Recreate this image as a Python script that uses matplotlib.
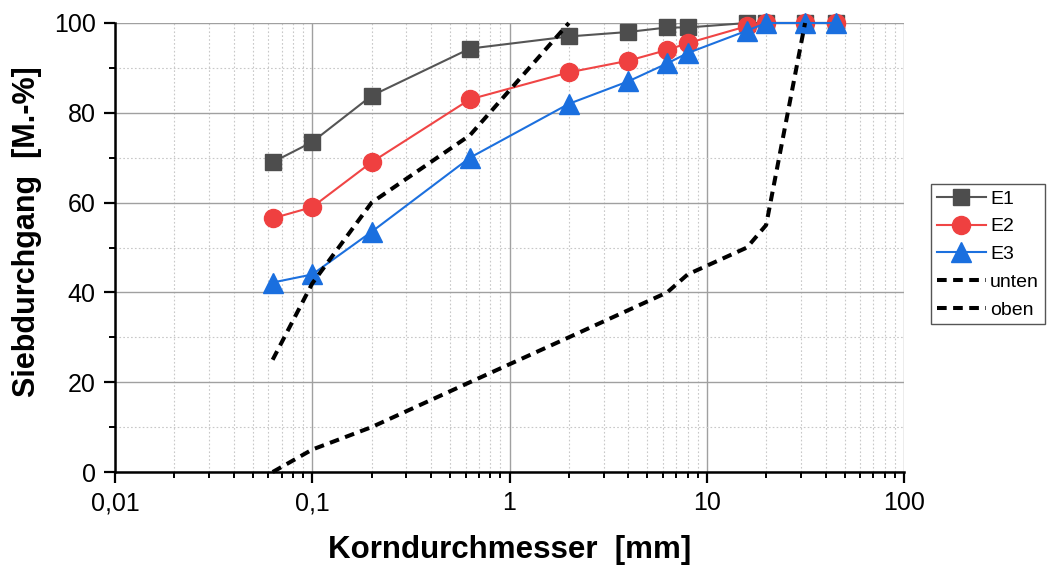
import matplotlib
matplotlib.use("Agg")
import matplotlib.pyplot as plt
from matplotlib.ticker import FixedLocator, FixedFormatter, LogLocator, MultipleLocator, NullFormatter

plt.rcParams['font.family'] = ['Liberation Sans', 'DejaVu Sans']

# sieve sizes [mm]
sieve = [0.063, 0.1, 0.2, 0.63, 2, 4, 6.3, 8, 16, 20, 31.5, 45]
e1 = [69, 73.5, 83.8, 94.3, 97, 98, 99, 99, 100, 100, 100, 100]
e2 = [56.5, 59, 69, 83, 89, 91.6, 94, 95.5, 99.3, 100, 100, 100]
e3 = [42.2, 44, 53.5, 70, 82, 87, 91, 93.3, 98.3, 100, 100, 100]

unten_x = [0.063, 0.1, 0.2, 0.63, 2, 6.3, 8, 16, 20, 31.5]
unten_y = [0, 5, 10, 20, 30, 40, 44, 50, 55, 100]
oben_x = [0.063, 0.1, 0.2, 0.63, 2]
oben_y = [25, 42, 60, 75, 100]

xticks = [0.01, 0.1, 1, 10, 100]
xlabels = ['0,01', '0,1', '1', '10', '100']

fig = plt.figure(figsize=(10.54, 5.72), dpi=100)
ax = fig.add_axes([0.1091, 0.1748, 0.7486, 0.785])

ax.plot(sieve, e1, color='#555555', lw=1.5, marker='s', ms=12,
        mfc='#4d4d4d', mec='#4d4d4d', label='E1', clip_on=False, zorder=3)
ax.plot(sieve, e2, color='#f04545', lw=1.5, marker='o', ms=13,
        mfc='#ef4040', mec='#ef4040', label='E2', clip_on=False, zorder=4)
ax.plot(sieve, e3, color='#1c70de', lw=1.5, marker='^', ms=15,
        mfc='#1a6fdf', mec='#1a6fdf', label='E3', clip_on=False, zorder=5)
ax.plot(unten_x, unten_y, color='black', lw=2.9, ls=(0, (2.4, 1.6)),
        label='unten', clip_on=False, zorder=6)
ax.plot(oben_x, oben_y, color='black', lw=2.9, ls=(0, (2.4, 1.6)),
        label='oben', clip_on=False, zorder=6)

ax.set_xscale('log')
ax.set_xlim(0.01, 100)
ax.set_ylim(0, 100)

ax.xaxis.set_major_locator(FixedLocator(xticks))
ax.xaxis.set_major_formatter(FixedFormatter(xlabels))
ax.xaxis.set_minor_locator(LogLocator(base=10, subs=range(2, 10), numticks=20))
ax.xaxis.set_minor_formatter(NullFormatter())
ax.yaxis.set_major_locator(MultipleLocator(20))
ax.yaxis.set_minor_locator(MultipleLocator(10))

ax.grid(True, which='major', color='#a0a0a0', lw=1.0, ls='-')
ax.grid(True, which='minor', color='#c8c8c8', lw=0.8, ls=(0, (1.5, 2)))
ax.set_axisbelow(True)

for s in ['top', 'right']:
    ax.spines[s].set_visible(False)
for s in ['left', 'bottom']:
    ax.spines[s].set_linewidth(1.8)

ax.tick_params(which='major', direction='out', length=8, width=1.6, labelsize=18, pad=6)
ax.tick_params(which='minor', direction='out', length=4, width=1.4)

ax.set_xlabel('Korndurchmesser  [mm]', fontsize=22.5, fontweight='bold', labelpad=14)
ax.set_ylabel('Siebdurchgang  [M.-%]', fontsize=22, fontweight='bold')
ax.yaxis.set_label_coords(-0.093, 0.535)

leg = ax.legend(loc='upper left', bbox_to_anchor=(0.883, 0.678),
                bbox_transform=fig.transFigure, borderaxespad=0,
                fontsize=14, handlelength=2.55, handletextpad=0.2,
                labelspacing=0.52, borderpad=0.3, fancybox=False,
                framealpha=1, edgecolor='#555555')
leg.get_frame().set_linewidth(1.0)

fig.savefig('out.png', dpi=100)
